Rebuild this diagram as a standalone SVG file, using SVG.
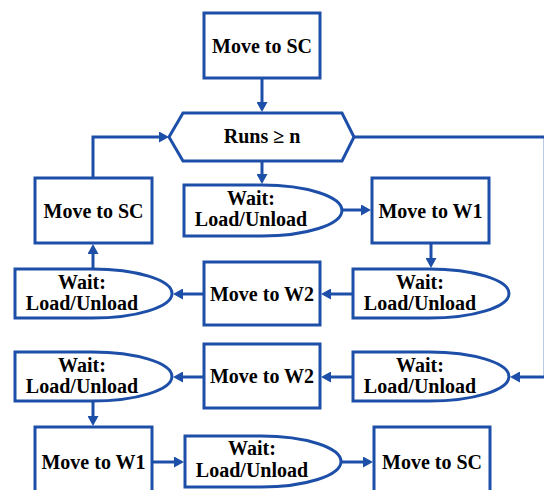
<svg xmlns="http://www.w3.org/2000/svg" width="544" height="490" viewBox="0 0 544 490">
<defs>
<style>
.n{fill:#fff;stroke:#1d4fa8;stroke-width:3}
.c{fill:none;stroke:#1d4fa8;stroke-width:3}
.t{font-family:'Liberation Serif','DejaVu Serif',serif;font-weight:bold;font-size:20px;fill:#000;text-anchor:middle}
</style>
<marker id="ah" markerUnits="userSpaceOnUse" markerWidth="10" markerHeight="11" refX="6" refY="5.5" orient="auto" viewBox="0 0 10 11">
<path d="M0,0 L10,5.5 L0,11 Z" fill="#1d4fa8"/>
</marker>
</defs>
<rect width="544" height="490" fill="#fff"/>
<g id="connectors">
<path class="c" d="M262,78 V108" marker-end="url(#ah)"/>
<path class="c" d="M262,162 V180" marker-end="url(#ah)"/>
<path class="c" d="M93,178 V137 H165" marker-end="url(#ah)"/>
<path class="c" d="M342,210 H367" marker-end="url(#ah)"/>
<path class="c" d="M354,137 H545.2 V377 H514" marker-end="url(#ah)"/>
<path class="c" d="M431,243 V264" marker-end="url(#ah)"/>
<path class="c" d="M353,294 H325" marker-end="url(#ah)"/>
<path class="c" d="M204,294 H177" marker-end="url(#ah)"/>
<path class="c" d="M93,269 V248" marker-end="url(#ah)"/>
<path class="c" d="M353,377 H325" marker-end="url(#ah)"/>
<path class="c" d="M204,377 H177" marker-end="url(#ah)"/>
<path class="c" d="M93,401 V422" marker-end="url(#ah)"/>
<path class="c" d="M152,462 H180" marker-end="url(#ah)"/>
<path class="c" d="M341,462 H369" marker-end="url(#ah)"/>
</g>
<g id="start_move_sc">
<rect class="n" x="204" y="13" width="116" height="65"/>
<text class="t" x="262" y="53">Move to SC</text>
</g>
<g id="runs_check">
<polygon class="n" points="183,113 342,113 354,137 342,161 183,161 169,137"/>
<text class="t" x="262" y="143">Runs ≥ n</text>
</g>
<g id="wait1">
<path class="n" d="M184,185 H262 A80,25.5 0 0 1 262,236 H184 Z"/>
<text class="t" x="251" y="205">Wait:</text>
<text class="t" x="251" y="226">Load/Unload</text>
</g>
<g id="move_w1_a">
<rect class="n" x="372" y="178" width="117" height="65"/>
<text class="t" x="430.5" y="217.5">Move to W1</text>
</g>
<g id="move_sc_left">
<rect class="n" x="35" y="178" width="117" height="65"/>
<text class="t" x="93.5" y="217.5">Move to SC</text>
</g>
<g id="wait2_right">
<path class="n" d="M353,269 H429 A80,24.5 0 0 1 429,318 H353 Z"/>
<text class="t" x="420" y="289">Wait:</text>
<text class="t" x="420" y="310">Load/Unload</text>
</g>
<g id="move_w2_a">
<rect class="n" x="204" y="262" width="116" height="63"/>
<text class="t" x="262" y="300.5">Move to W2</text>
</g>
<g id="wait2_left">
<path class="n" d="M15,269 H92 A80,24.5 0 0 1 92,318 H15 Z"/>
<text class="t" x="82" y="289">Wait:</text>
<text class="t" x="82" y="310">Load/Unload</text>
</g>
<g id="wait3_right">
<path class="n" d="M353,352 H429 A80,24.5 0 0 1 429,401 H353 Z"/>
<text class="t" x="420" y="372">Wait:</text>
<text class="t" x="420" y="393">Load/Unload</text>
</g>
<g id="move_w2_b">
<rect class="n" x="204" y="344" width="116" height="64"/>
<text class="t" x="262" y="383">Move to W2</text>
</g>
<g id="wait3_left">
<path class="n" d="M15,352 H92 A80,24.5 0 0 1 92,401 H15 Z"/>
<text class="t" x="82" y="372">Wait:</text>
<text class="t" x="82" y="393">Load/Unload</text>
</g>
<g id="move_w1_b">
<rect class="n" x="35" y="427" width="117" height="70"/>
<text class="t" x="93.5" y="469">Move to W1</text>
</g>
<g id="wait4">
<path class="n" d="M185,436 H261 A80,25.5 0 0 1 261,487 H185 Z"/>
<text class="t" x="252" y="455">Wait:</text>
<text class="t" x="252" y="477">Load/Unload</text>
</g>
<g id="move_sc_end">
<rect class="n" x="374" y="427" width="116" height="70"/>
<text class="t" x="432" y="469">Move to SC</text>
</g>
</svg>
